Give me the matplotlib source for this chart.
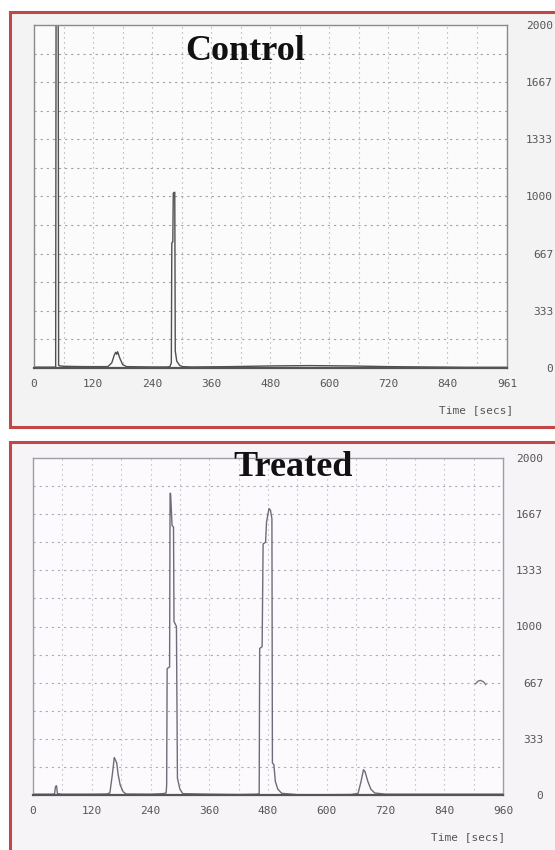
import matplotlib
matplotlib.use('Agg')
import matplotlib.pyplot as plt
from matplotlib.patches import Rectangle
import numpy as np

# --- Control trace (time in s, detector signal) ---
control_time = [0, 20, 40, 44, 45, 49, 50, 53, 60, 100, 140, 150, 158, 163, 166,
                168, 170, 174, 180, 188, 240, 270, 276, 279, 280, 282, 283, 286,
                287, 290, 296, 302, 320, 400, 480, 560, 640, 720, 800, 880, 961]
control_signal = [5, 5, 5, 5, 2500, 2500, 15, 12, 10, 8, 8, 8, 30, 75, 92,
                  80, 95, 60, 20, 8, 6, 6, 8, 30, 730, 735, 1020, 1025,
                  100, 40, 15, 8, 6, 8, 12, 14, 12, 8, 6, 4, 4]

# --- Treated trace ---
treated_time = [0, 40, 44, 46, 48, 50, 60, 120, 150, 157, 162, 166, 168, 171, 174,
                178, 184, 190, 240, 265, 272, 273, 274, 279, 280, 281, 284, 287,
                288, 293, 295, 300, 306, 360, 420, 458, 462, 463, 468, 470, 475,
                477, 482, 485, 488, 489, 492, 495, 500, 508, 540, 600, 650, 664,
                670, 675, 678, 684, 690, 698, 720, 800, 960]
treated_signal = [5, 5, 8, 50, 55, 8, 5, 5, 6, 12, 120, 222, 210, 190, 120,
                  60, 20, 6, 5, 8, 12, 60, 750, 760, 1790, 1790, 1600, 1590,
                  1030, 1000, 100, 35, 8, 5, 3, 5, 10, 870, 880, 1490, 1500,
                  1620, 1700, 1690, 1640, 190, 180, 80, 35, 10, 2, 2, 3, 10,
                  80, 150, 140, 80, 35, 12, 5, 5, 5]

# small stray mark on the treated record
stray_time = [904, 909, 914, 920, 925]
stray_signal = [660, 676, 680, 672, 655]

y_ticks = [0, 333, 667, 1000, 1333, 1667, 2000]
y_labels = ['0', '333', '667', '1000', '1333', '1667', '2000']
control_xticks = [0, 120, 240, 360, 480, 600, 720, 840, 961]
treated_xticks = [0, 120, 240, 360, 480, 600, 720, 840, 960]

W, H = 555, 850
fig = plt.figure(figsize=(W / 100, H / 100), dpi=100)
fig.patch.set_facecolor('white')

def fx(px):
    return px / W

def fy(py):
    return 1 - py / H

# red frames round each record
frame_red = '#c24747'
fig.add_artist(Rectangle((fx(10), fy(427)), 1.2, fy(12) - fy(427),
                         transform=fig.transFigure, facecolor='#f3f3f3',
                         edgecolor=frame_red, lw=2.2, zorder=-5))
fig.add_artist(Rectangle((fx(10), -0.2), 1.2, fy(442) + 0.2,
                         transform=fig.transFigure, facecolor='#f6f4f7',
                         edgecolor=frame_red, lw=2.2, zorder=-5))

mono = 'DejaVu Sans Mono'

def setup(ax, xmax, xticks, pad_px, grid_col, spine_col, bg):
    ax.set_facecolor(bg)
    ax.set_xlim(0, xmax)
    ax.set_ylim(0, 2000)
    ax.set_xticks(xticks)
    ax.set_xticklabels([str(t) for t in xticks])
    ax.set_yticks(y_ticks)
    ax.set_yticklabels(y_labels)
    ax.yaxis.tick_right()
    ax.tick_params(axis='both', length=0, labelsize=8, labelcolor='#555555')
    ax.tick_params(axis='x', pad=8)
    ax.tick_params(axis='y', pad=pad_px * 0.72)
    for lab in ax.get_yticklabels():
        lab.set_horizontalalignment('right')
    for lab in ax.get_xticklabels() + ax.get_yticklabels():
        lab.set_family(mono)
    # grid every 60 s and every sixth of full scale
    for gx in np.arange(60, xmax, 60):
        ax.axvline(gx, color=grid_col, lw=0.8, ls=(0, (1, 3.5)), zorder=0)
    for gy in np.arange(1, 12) * 2000 / 12:
        ax.axhline(gy, color=grid_col, lw=0.8, ls=(0, (2, 3.5)), zorder=0)
    for s in ax.spines.values():
        s.set_color(spine_col)
        s.set_linewidth(1.0)
    ax.spines['bottom'].set_linewidth(1.6)
    ax.spines['bottom'].set_color('#555555')

# Control
ax1 = fig.add_axes([fx(34), fy(368), fx(507) - fx(34), fy(25) - fy(368)])
setup(ax1, 961, control_xticks, 46, '#a2a2a2', '#8a8a8a', '#fbfbfb')
ax1.plot(control_time, control_signal, color='#505050', lw=1.0)
fig.text(fx(245), fy(51), 'Control', ha='center', va='center',
         family='Liberation Serif', weight='bold', fontsize=26, color='#111111')
fig.text(fx(513), fy(410), 'Time [secs]', ha='right', va='center',
         family=mono, fontsize=8, color='#555555')

# Treated
ax2 = fig.add_axes([fx(33), fy(795), fx(503) - fx(33), fy(458) - fy(795)])
setup(ax2, 960, treated_xticks, 40, '#aeaab8', '#a09ca8', '#fcfafd')
ax2.plot(treated_time, treated_signal, color='#6e6c78', lw=1.0)
ax2.plot(stray_time, stray_signal, color='#77757f', lw=1.0)
fig.text(fx(293), fy(468), 'Treated', ha='center', va='center',
         family='Liberation Serif', weight='bold', fontsize=26, color='#111111')
fig.text(fx(505), fy(837), 'Time [secs]', ha='right', va='center',
         family=mono, fontsize=8, color='#555555')

plt.savefig('out.png', dpi=100)
